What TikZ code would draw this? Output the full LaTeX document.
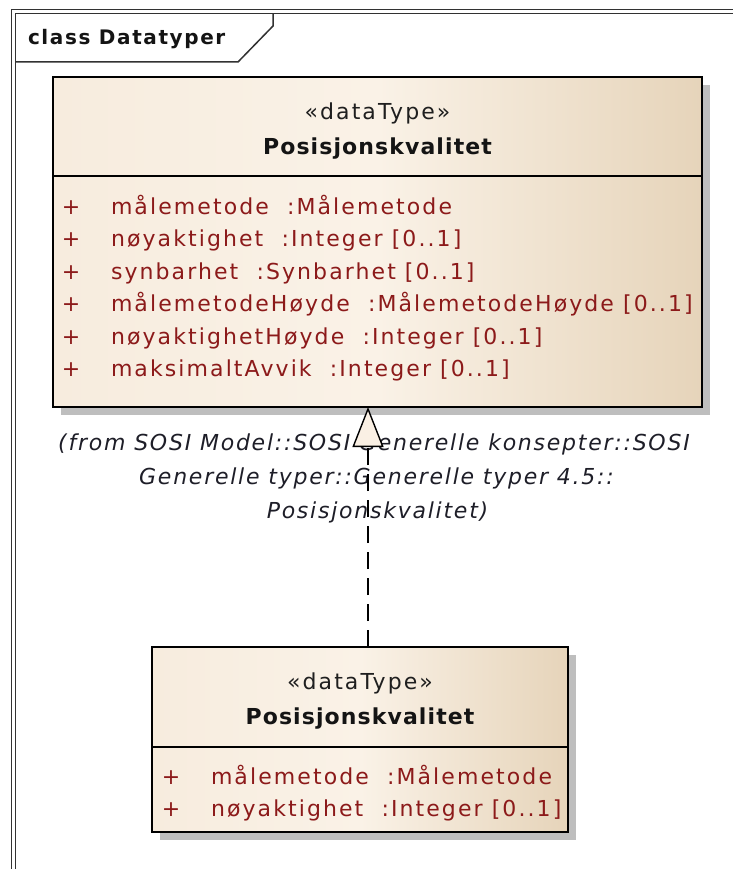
\documentclass[tikz,border=0pt]{standalone}
\usepackage{fontspec}
\setmainfont{DejaVu Sans}[LetterSpace=9.5]
\newfontfamily\hdfont{DejaVu Sans}[LetterSpace=5]
\newfontfamily\ttlfont{DejaVu Sans}[LetterSpace=8]
\newfontfamily\lblfont{DejaVu Sans}[LetterSpace=8]
\usetikzlibrary{arrows.meta,shadows,calc}
\definecolor{attr}{RGB}{140,26,26}
\definecolor{boxL}{RGB}{247,236,222}
\definecolor{boxM}{RGB}{250,242,231}
\definecolor{boxR}{RGB}{230,212,186}
\definecolor{frameC}{RGB}{50,50,50}
\definecolor{shadowC}{RGB}{190,190,190}
\definecolor{triC}{RGB}{250,240,228}
\definecolor{lblC}{RGB}{30,30,40}
\tikzset{
  classbox/.style={draw=black, line width=1.8pt, anchor=north west, inner sep=0pt,
    left color=boxL, right color=boxR, middle color=boxM,
    drop shadow={shadow xshift=8pt, shadow yshift=-8pt, fill=shadowC, opacity=1}},
  stereo/.style={anchor=base, text=black!88, font=\fontsize{22}{22}\selectfont},
  cname/.style={anchor=base, text=black!92, font=\hdfont\bfseries\fontsize{22}{22}\selectfont},
  attrtxt/.style={anchor=base west, text=attr, font=\fontsize{22}{22}\selectfont},
  plussign/.style={anchor=base, text=attr, font=\fontsize{22}{22}\selectfont},
  lbl/.style={anchor=base, text=lblC, font=\lblfont\itshape\fontsize{22}{22}\selectfont},
  framel/.style={draw=frameC, line width=1.5pt},
  sepline/.style={draw=black, line width=1.8pt},
  realize/.style={draw=black, line width=1.4pt, dash pattern=on 17pt off 9pt,
    -{Triangle[length=40pt, width=31pt, fill=triC, line width=1.4pt]}}
}
\begin{document}
\begin{tikzpicture}[x=1pt, y=-1pt, every node/.style={inner sep=0pt, outer sep=0pt}]
\useasboundingbox (0,0) rectangle (733,869);
\fill[white] (0,0) rectangle (733,869);
% frame
\draw[framel] (11.5,869) -- (11.5,9.5) -- (733,9.5);
\draw[framel] (15.5,869) -- (15.5,13.5) -- (733,13.5);
\draw[framel] (15.5,62) -- (238,62) -- (273,26) -- (273,13.5);
\node[anchor=base west, text=black!92, font=\ttlfont\bfseries\fontsize{20}{20}\selectfont] (title) at (28,45) {class Datatyper};

% top class
\node[classbox, minimum width=649pt, minimum height=330pt] (top) at (53,77) {};
\draw[sepline] ($(top.north west)+(0,99)$) -- ($(top.north east)+(0,99)$);
\node[stereo] (tst) at (377.5,119.5) {«dataType»};
\node[cname] (tnm) at (377.5,155) {Posisjonskvalitet};
\foreach \i/\t in {0/{målemetode\ \ :Målemetode},
                   1/{nøyaktighet\ \ :Integer [0..1]},
                   2/{synbarhet\ \ :Synbarhet [0..1]},
                   3/{målemetodeHøyde\ \ :MålemetodeHøyde [0..1]},
                   4/{nøyaktighetHøyde\ \ :Integer [0..1]},
                   5/{maksimaltAvvik\ \ :Integer [0..1]}}{
  \node[plussign] (tp\i) at (71,214+32.5*\i) {+};
  \node[attrtxt] (ta\i) at (111,214+32.5*\i) {\t};
}

% bottom class
\node[classbox, minimum width=416pt, minimum height=185pt] (bot) at (152,647) {};
\draw[sepline] ($(bot.north west)+(0,100)$) -- ($(bot.north east)+(0,100)$);
\node[stereo] (bst) at (360,689.5) {«dataType»};
\node[cname] (bnm) at (360,724) {Posisjonskvalitet};
\node[plussign] (bp0) at (171,784) {+};
\node[attrtxt] (ba0) at (211,784) {målemetode\ \ :Målemetode};
\node[plussign] (bp1) at (171,816.5) {+};
\node[attrtxt] (ba1) at (211,816.5) {nøyaktighet\ \ :Integer [0..1]};

% label
\node[lbl] (l1) at (374,450) {(from SOSI Model::SOSI Generelle konsepter::SOSI};
\node[lbl] (l2) at (376.5,484) {Generelle typer::Generelle typer 4.5::};
\node[lbl] (l3) at (377.5,518) {Posisjonskvalitet)};

% realization connector
\coordinate (ax) at (368,0);
\draw[realize] (bot.north -| ax) -- (top.south -| ax);
\end{tikzpicture}
\end{document}
